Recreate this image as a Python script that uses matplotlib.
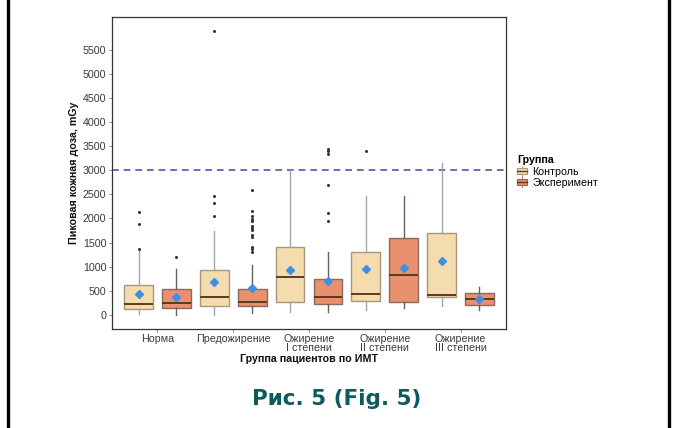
import matplotlib
matplotlib.use("Agg")
import matplotlib.pyplot as plt
from matplotlib.patches import Rectangle
from matplotlib.lines import Line2D
from matplotlib.legend_handler import HandlerBase

plt.rcParams['font.family'] = ['Liberation Sans', 'DejaVu Sans']

categories = ["Норма", "Предожирение", "Ожирение\nI степени", "Ожирение\nII степени", "Ожирение\nIII степени"]
groups = ["Контроль", "Эксперимент"]

# per category: [control, experiment]
q1 = [[124, 138], [186, 178], [261, 220], [288, 269], [375, 210]]
median = [[234, 248], [365, 278], [791, 372], [432, 835], [410, 340]]
q3 = [[625, 545], [930, 545], [1410, 755], [1310, 1605], [1690, 448]]
whisk_lo = [[30, 0], [0, 40], [69, 55], [105, 140], [195, 97]]
whisk_hi = [[1337, 951], [1744, 1034], [3000, 1314], [2456, 2456], [3160, 580]]
means = [[433, 365], [690, 556], [936, 702], [945, 973], [1124, 340]]
outliers = [
    [[2144, 1896, 1372], [1192]],
    [[2475, 2316, 2061, 5882], [2592, 2158, 2054, 1999, 1951, 1834, 1799, 1765, 1654, 1620, 1406, 1365, 1296]],
    [[], [1947, 2105, 2704, 3330, 3390, 3440]],
    [[3406], []],
    [[], []],
]
threshold = 3000
yticks = [0, 500, 1000, 1500, 2000, 2500, 3000, 3500, 4000, 4500, 5000, 5500]

fills = ["#F5DCAE", "#E9906F"]
edges = ["#A8977C", "#8A6A5C"]
whisk_colors = ["#A5A5A5", "#6E5E58"]
median_color = "#5B3A1E"
mean_color = "#3F8FE3"

W, H = 677, 428
fig = plt.figure(figsize=(W / 100, H / 100), dpi=100)
ax = fig.add_axes([112 / W, 1 - 329 / H, 394 / W, 312 / H])

offsets = [-0.25, 0.25]
bw = 0.38
for i in range(len(categories)):
    for g in range(2):
        stats = [dict(med=median[i][g], q1=q1[i][g], q3=q3[i][g],
                      whislo=whisk_lo[i][g], whishi=whisk_hi[i][g],
                      mean=means[i][g], fliers=outliers[i][g])]
        ax.bxp(stats, positions=[i + 1 + offsets[g]], widths=bw,
               patch_artist=True, showmeans=True, showcaps=False,
               boxprops=dict(facecolor=fills[g], edgecolor=edges[g], linewidth=1.0),
               whiskerprops=dict(color=whisk_colors[g], linewidth=1.0),
               medianprops=dict(color=median_color, linewidth=1.4),
               meanprops=dict(marker='D', markerfacecolor=mean_color,
                              markeredgecolor=mean_color, markersize=4.5),
               flierprops=dict(marker='o', markerfacecolor='#333333',
                               markeredgecolor='#333333', markersize=1.2))

ax.axhline(threshold, color="#5252B8", linestyle=(0, (4, 3)), linewidth=1.2, zorder=0.5)

ax.set_xlim(0.4, 5.6)
ax.set_ylim(-290, 6175)
ax.set_xticks(range(1, len(categories) + 1))
ax.set_xticklabels(categories, fontsize=7.7, color="#3a3a3a", linespacing=0.92)
ax.set_yticks(yticks)
ax.set_yticklabels([str(v) for v in yticks], fontsize=7.7, color="#3a3a3a")
ax.tick_params(axis='both', length=2.5, width=0.6, color="#777777", pad=1.5)
ax.tick_params(axis='x', pad=1.0)
for s in ax.spines.values():
    s.set_color("#333333")
    s.set_linewidth(0.9)
ax.set_xlabel("Группа пациентов по ИМТ", fontsize=7.7, fontweight='bold', labelpad=0.5, color="#111111")
ax.set_ylabel("Пиковая кожная доза, mGy", fontsize=7.7, fontweight='bold', labelpad=2.5, color="#111111")


class BoxHandler(HandlerBase):
    def create_artists(self, legend, orig_handle, xdescent, ydescent, width, height, fontsize, trans):
        fc, ec = orig_handle
        x0, y0 = -xdescent, -ydescent
        cx = x0 + width / 2
        r = Rectangle((x0, y0 + height * 0.15), width, height * 0.7, facecolor=fc,
                      edgecolor=ec, linewidth=0.8, transform=trans)
        m = Line2D([x0, x0 + width], [y0 + height / 2] * 2, color=median_color, linewidth=1.0, transform=trans)
        w1 = Line2D([cx, cx], [y0 - height * 0.1, y0 + height * 0.15], color=ec, linewidth=0.6, transform=trans)
        w2 = Line2D([cx, cx], [y0 + height * 0.85, y0 + height * 1.1], color=ec, linewidth=0.6, transform=trans)
        return [w1, w2, r, m]


handles = [(fills[0], edges[0]), (fills[1], edges[1])]
leg = fig.legend(handles, groups, handler_map={tuple: BoxHandler()},
                 loc='upper left', bbox_to_anchor=(510 / W, 1 - 148 / H),
                 frameon=False, title="Группа", fontsize=7.7,
                 title_fontproperties=dict(weight='bold', size=7.7),
                 handlelength=0.9, handleheight=0.8, handletextpad=0.5,
                 labelspacing=0.1, borderpad=0.2)
leg._legend_box.align = "left"

# caption
fig.text(337 / W, 1 - 399 / H, "Рис. 5 (Fig. 5)", fontsize=15.5, fontweight='bold',
         color="#0D5B5C", ha='center', va='center', family=['DejaVu Sans'])

# page border lines
fig.add_artist(Line2D([7.5 / W, 7.5 / W], [0, 1], color='black', linewidth=2.4, transform=fig.transFigure))
fig.add_artist(Line2D([668.5 / W, 668.5 / W], [0, 1], color='black', linewidth=2.4, transform=fig.transFigure))

fig.savefig("out.png", dpi=100)
